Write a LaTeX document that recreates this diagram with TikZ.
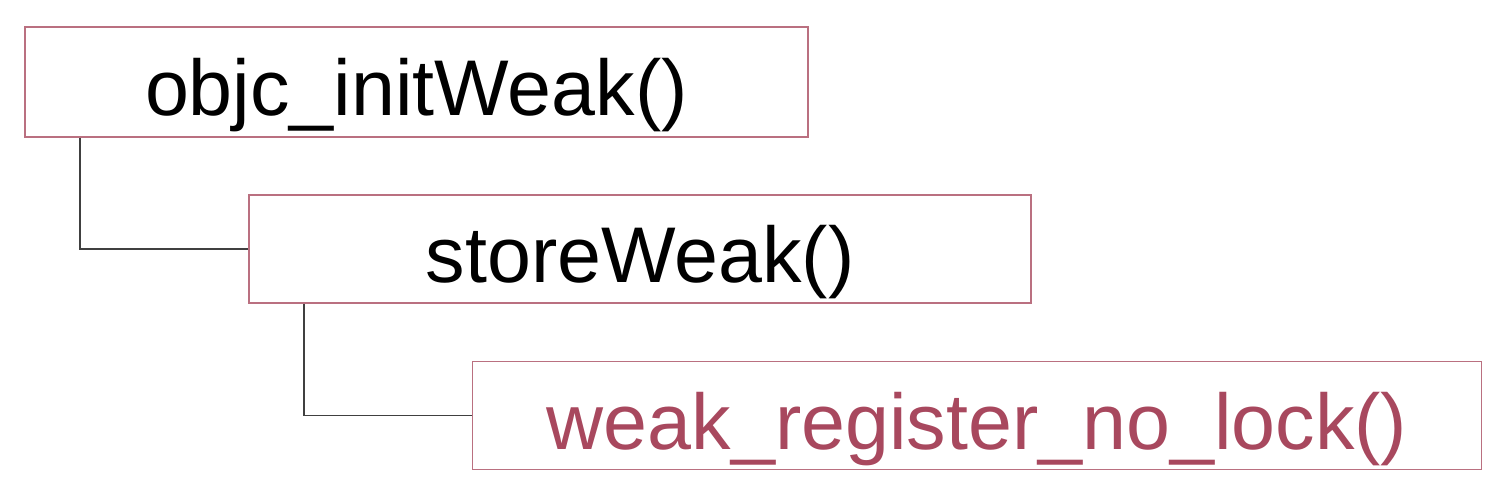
\documentclass[tikz,border=0pt]{standalone}
\usepackage{fontspec}
\setmainfont{Liberation Sans}
\definecolor{boxline}{RGB}{186,112,128}
\definecolor{fnred}{RGB}{168,72,94}
\definecolor{linkgray}{RGB}{64,64,64}
\tikzset{callbox/.style={draw=boxline,line width=1.5pt,inner sep=0pt,text height=68pt,text depth=0pt,font=\fontsize{79}{90}\selectfont},
  calllink/.style={draw=linkgray,line width=1.6pt}}
\begin{document}
\begin{tikzpicture}[x=1pt,y=-1pt]
\useasboundingbox (0,0) rectangle (1504,494);
\node[callbox,minimum width=783pt,minimum height=110pt] (init) at (416.5,82) {objc\_initWeak()};
\node[callbox,minimum width=782pt,minimum height=108pt] (store) at (640,249) {storeWeak()};
\node[callbox,minimum width=1009pt,minimum height=108pt,text=fnred] (register) at (977,415.5) {weak\_register\_no\_lock()};
\draw[calllink] ([xshift=56pt]init.south west) |- (store.west);
\draw[calllink] ([xshift=56pt]store.south west) |- (register.west);
\end{tikzpicture}
\end{document}
